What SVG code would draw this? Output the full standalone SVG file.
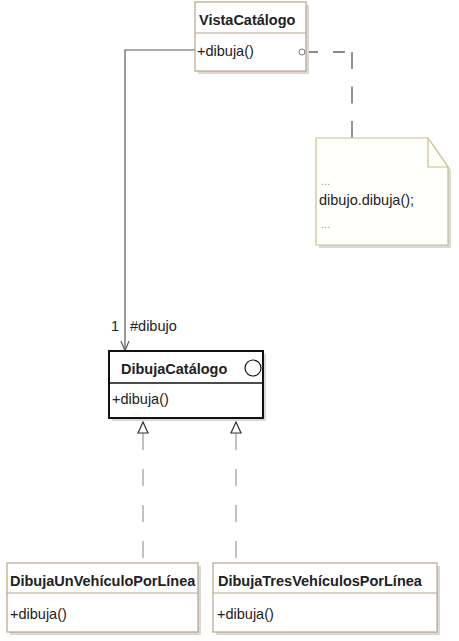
<svg xmlns="http://www.w3.org/2000/svg" width="459" height="641" viewBox="0 0 459 641">
<style>
.bg{fill:#ffffff}
.shadow{fill:#d9d9d9}
.cls{fill:#ffffff;stroke:#b9a487;stroke-width:1.2}
.div{stroke:#b9a487;stroke-width:1.2}
.abs{fill:#ffffff;stroke:#111111;stroke-width:2}
.absdiv{stroke:#111111;stroke-width:1.5}
.t{font-family:"Liberation Sans",Arial,sans-serif;font-size:14.5px;fill:#222222}
.b{font-weight:bold}
.note{fill:#fffffc;stroke:#c9bd8e;stroke-width:1.2}
.assoc{fill:none;stroke:#5a5a5a;stroke-width:1.2}
.dep{fill:none;stroke:#666666;stroke-width:1.4}
.gen{fill:none;stroke:#999999;stroke-width:1.2;stroke-dasharray:17 19}
.tri{fill:#ffffff;stroke:#333333;stroke-width:1.2}
</style>
<rect class="bg" x="0" y="0" width="459" height="641"/>

<g id="connectors">
  <path class="assoc" d="M195,50 H125 V350"/>
  <path class="assoc" d="M121,341 L125,351 L129,341"/>
  <text class="t" x="111" y="331">1</text>
  <text class="t" x="130" y="331">#dibujo</text>
  <path class="dep" d="M306,52 H352" stroke-dasharray="12 15"/>
  <path class="dep" d="M352,52 V138" stroke-dasharray="17 17.5"/>
  <path class="gen" d="M143,433 V563"/>
  <path class="gen" d="M236,433 V563"/>
  <polygon class="tri" points="143,422 138,433 148,433"/>
  <polygon class="tri" points="236,422 231,433 241,433"/>
</g>

<g id="VistaCatalogo">
  <rect class="shadow" x="198" y="5" width="111" height="69"/>
  <rect class="cls" x="195" y="2" width="111" height="69"/>
  <line class="div" x1="195" y1="33" x2="306" y2="33"/>
  <text class="t b" x="199" y="25">VistaCatálogo</text>
  <text class="t" x="197" y="56">+dibuja()</text>
  <circle cx="302" cy="52" r="3" fill="#ffffff" stroke="#777777" stroke-width="1"/>
</g>

<g id="nota">
  <polygon class="shadow" points="319,141 431,141 451,170 451,248 319,248"/>
  <polygon class="note" points="316,138 428,138 448,167 448,245 316,245"/>
  <polyline fill="none" stroke="#c9bd8e" stroke-width="1.2" points="428,138 428,167 448,167"/>
  <text class="t" x="321" y="185" style="font-size:11px;fill:#999999">...</text>
  <text class="t" x="319" y="205">dibujo.dibuja();</text>
  <text class="t" x="321" y="228" style="font-size:11px;fill:#999999">...</text>
</g>

<g id="DibujaCatalogo">
  <rect class="shadow" x="112" y="354" width="154" height="67"/>
  <rect class="abs" x="109" y="351" width="154" height="67"/>
  <line class="absdiv" x1="109" y1="383" x2="263" y2="383"/>
  <text class="t b" x="121" y="374">DibujaCatálogo</text>
  <circle cx="253" cy="368" r="8" fill="#ffffff" stroke="#111111" stroke-width="1.2"/>
  <text class="t" x="112" y="404">+dibuja()</text>
</g>

<g id="DibujaUnVehiculoPorLinea">
  <rect class="shadow" x="10" y="566" width="191" height="69"/>
  <rect class="cls" x="7" y="563" width="191" height="69"/>
  <line class="div" x1="7" y1="593" x2="198" y2="593"/>
  <text class="t b" x="10" y="586">DibujaUnVehículoPorLínea</text>
  <text class="t" x="10" y="619">+dibuja()</text>
</g>

<g id="DibujaTresVehiculosPorLinea">
  <rect class="shadow" x="216" y="566" width="224" height="69"/>
  <rect class="cls" x="213" y="563" width="224" height="69"/>
  <line class="div" x1="213" y1="593" x2="437" y2="593"/>
  <text class="t b" x="218" y="586">DibujaTresVehículosPorLínea</text>
  <text class="t" x="217" y="619">+dibuja()</text>
</g>
</svg>
